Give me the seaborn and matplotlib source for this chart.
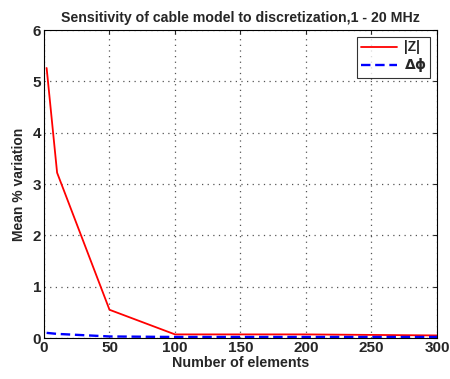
import matplotlib
matplotlib.use("Agg")
import matplotlib.pyplot as plt
import seaborn as sns
import pandas as pd

n_elements = [2, 10, 50, 100, 200, 300]
var_mag = [5.26, 3.22, 0.55, 0.07, 0.07, 0.05]
var_phase = [0.10, 0.08, 0.03, 0.02, 0.02, 0.02]
x_ticks = [0, 50, 100, 150, 200, 250, 300]
y_ticks = [0, 1, 2, 3, 4, 5, 6]

sns.set_style("white")
plt.rcParams['font.family'] = ['Liberation Sans', 'DejaVu Sans']
plt.rcParams['font.weight'] = 'bold'

df = pd.DataFrame({
    "n": n_elements * 2,
    "v": var_mag + var_phase,
    "s": ["|Z|"] * len(n_elements) + [r"$\mathbf{\Delta\phi}$"] * len(n_elements),
})

fig = plt.figure(figsize=(4.5, 3.79), dpi=100)
ax = fig.add_axes([44 / 450, 41 / 379, 393 / 450, 308 / 379])

sns.lineplot(data=df, x="n", y="v", hue="s", style="s",
             palette=["#ff0000", "#0000ff"],
             dashes=[(None, None), (4, 2)], linewidth=1.3, ax=ax)
ax.lines[1].set_linewidth(1.7)

ax.set_xlim(0, 300)
ax.set_ylim(0, 6)
ax.set_xticks(x_ticks)
ax.set_yticks(y_ticks)
ax.tick_params(labelsize=11, direction="in", length=3, pad=2,
               top=True, right=True)
for lab in ax.get_xticklabels() + ax.get_yticklabels():
    lab.set_fontweight("bold")
ax.grid(True, linestyle=(0, (1, 3.5)), color="#555555", linewidth=0.9)
for sp in ax.spines.values():
    sp.set_color("black")
    sp.set_linewidth(0.8)

ax.set_xlabel("Number of elements", fontsize=10.3, fontweight="bold", labelpad=1)
ax.set_ylabel("Mean % variation", fontsize=10, fontweight="bold", labelpad=5)
ax.set_title("Sensitivity of cable model to discretization,1 - 20 MHz",
             fontsize=10.2, fontweight="bold", pad=6)

leg = ax.legend(loc="upper right", fontsize=10, frameon=True, fancybox=False,
                edgecolor="black", handlelength=2.6, borderpad=0.25,
                labelspacing=0.15, borderaxespad=0.5, handletextpad=0.5)
leg.get_frame().set_linewidth(0.8)
leg.get_lines()[1].set_linewidth(1.7)
for t in leg.get_texts():
    t.set_fontweight("bold")

fig.savefig("out.png", dpi=100)
